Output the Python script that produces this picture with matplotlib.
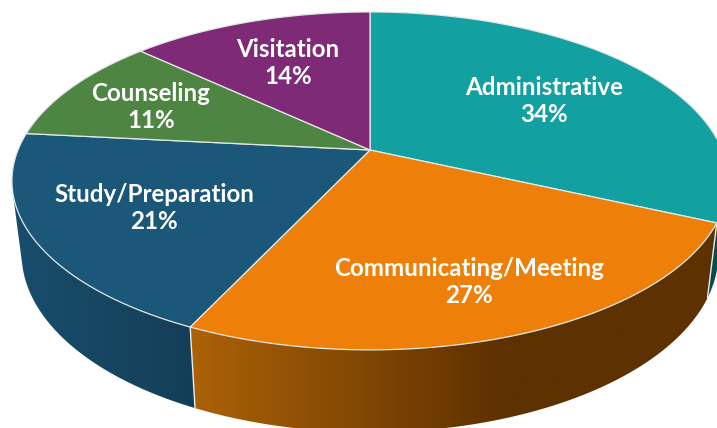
import numpy as np
import matplotlib
matplotlib.use("Agg")
import matplotlib.pyplot as plt
from matplotlib.patches import Polygon
from matplotlib.colors import to_rgb

categories = ["Administrative", "Communicating/Meeting", "Study/Preparation", "Counseling", "Visitation"]
percent = [34, 27, 21, 11, 14]

top_colors = ["#12A0A0", "#EE7F08", "#1A5778", "#4E8542", "#7E2A77"]
side_left = ["#0A5A5A", "#AD6207", "#184E6C", "#2E5026", "#4A1846"]
side_right = ["#0A4C4C", "#5E3100", "#143E57", "#2E5026", "#4A1846"]
label_pos = [(544, 101), (469, 282), (154, 208), (151, 107), (288, 63)]

# perspective model of the disc
CX, CY = 370.0, 150.0
K, H, W = 0.183, 163.3, 352.0
BOT_DX, BOT_DY, BOT_SY = 0.973, 71.0, 1.057


def project(theta, bottom=False):
    X, Y = np.sin(theta), -np.cos(theta)
    d = 1 - K * Y
    u, v = X / d, Y / d
    if bottom:
        return CX + BOT_DX * W * u, CY + BOT_DY + BOT_SY * H * v
    return CX + W * u, CY + H * v


def hull(points):
    pts = sorted(set(map(tuple, points)))

    def half(seq):
        out = []
        for p in seq:
            while len(out) > 1 and ((out[-1][0] - out[-2][0]) * (p[1] - out[-2][1])
                                    - (out[-1][1] - out[-2][1]) * (p[0] - out[-2][0])) <= 0:
                out.pop()
            out.append(p)
        return out[:-1]

    return np.array(half(pts) + half(pts[::-1]))


fig = plt.figure(figsize=(7.17, 4.28), dpi=100, facecolor="white")
ax = fig.add_axes([0, 0, 1, 1])

edges = np.concatenate([[0], np.cumsum(percent)]) / np.sum(percent) * 2 * np.pi

# side walls: horizontal gradient clipped to the wall outline
for i in range(len(percent)):
    th = np.linspace(edges[i], edges[i + 1], 300)
    xt, yt = project(th)
    xb, yb = project(th, True)
    outline = hull(np.c_[np.r_[xt, xb], np.r_[yt, yb]])
    poly = Polygon(outline, closed=True, transform=ax.transData, facecolor="none", edgecolor="none")
    ax.add_patch(poly)
    x0 = min(xt.min(), xb.min()) - 1
    x1 = max(xt.max(), xb.max()) + 1
    xend = 500.0 if i == 1 else x1
    c0, c1 = np.array(to_rgb(side_left[i])), np.array(to_rgb(side_right[i]))
    grid = np.linspace(x0, x1, 512)
    f = np.clip((grid - x0) / (xend - x0), 0, 1)[:, None]
    img = (c0 + (c1 - c0) * f)[None, :, :]
    im = ax.imshow(img, extent=(x0, x1, yb.max() + 1, yt.min() - 1), aspect="auto",
                   interpolation="bilinear", zorder=1)
    im.set_clip_path(poly)

# white seams between walls on the front
for e in edges[1:3]:
    xt, yt = project(e)
    xb, yb = project(e, True)
    ax.plot([xt, xb], [yt, yb], color="#E8EEF0", lw=1.0, zorder=2, solid_capstyle="butt")

# top wedges
for i in range(len(percent)):
    th = np.linspace(edges[i], edges[i + 1], 200)
    xt, yt = project(th)
    ax.fill(np.r_[CX, xt], np.r_[CY, yt], facecolor=top_colors[i], edgecolor="#E4E9EA", lw=0.9,
            joinstyle="round", zorder=3)

for name, p, (x, y) in zip(categories, percent, label_pos):
    ax.text(x, y, f"{name}\n{p}%", ha="center", va="center", color="white", family="Lato",
            fontweight="bold", fontsize=17.4, linespacing=1.25, zorder=5)

ax.set_xlim(0, 717)
ax.set_ylim(428, 0)
ax.axis("off")

fig.savefig("out.png", dpi=100, facecolor="white")
